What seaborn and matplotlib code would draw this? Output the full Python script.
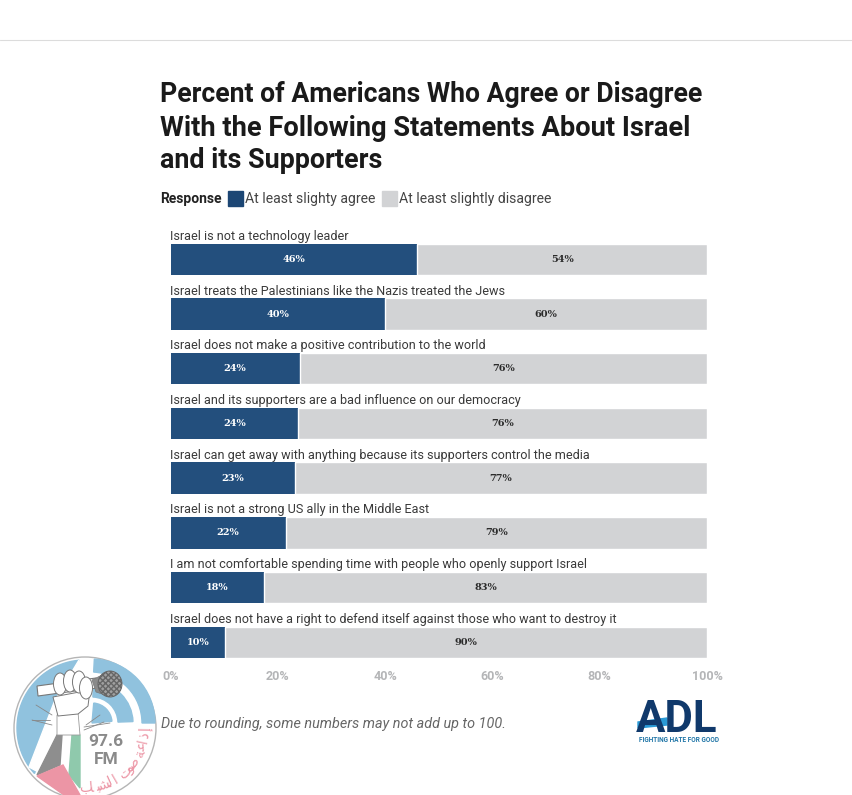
import matplotlib
matplotlib.use('Agg')
import matplotlib.pyplot as plt
from matplotlib.patches import Circle, Ellipse, Polygon, Rectangle, Wedge
import numpy as np
import pandas as pd
import seaborn as sns

statements = [
    "Israel is not a technology leader",
    "Israel treats the Palestinians like the Nazis treated the Jews",
    "Israel does not make a positive contribution to the world",
    "Israel and its supporters are a bad influence on our democracy",
    "Israel can get away with anything because its supporters control the media",
    "Israel is not a strong US ally in the Middle East",
    "I am not comfortable spending time with people who openly support Israel",
    "Israel does not have a right to defend itself against those who want to destroy it",
]
agree_share = [46.0, 40.0, 24.1, 23.8, 23.2, 21.5, 17.4, 10.2]
disagree_end = [100, 100, 100, 100, 100, 100, 100, 100]
agree_labels = ["46%", "40%", "24%", "24%", "23%", "22%", "18%", "10%"]
disagree_labels = ["54%", "60%", "76%", "76%", "77%", "79%", "83%", "90%"]
x_ticks = [0, 20, 40, 60, 80, 100]

title_lines = ["Percent of Americans Who Agree or Disagree",
               "With the Following Statements About Israel",
               "and its Supporters"]
arabic_glyphs = list("ﺇﺫﺍﻋﺔ ﺻﻮﺕ ﺍﻟﺸﺒﺎﺏ")

BLUE = '#234f7d'
GREY = '#d2d3d5'
W, H = 852, 795

sns.set_theme(style='white')
plt.rcParams['font.family'] = ['Roboto', 'DejaVu Sans']

df = pd.DataFrame({'statement': statements, 'agree': agree_share, 'end': disagree_end})

fig = plt.figure(figsize=(W / 100, H / 100), dpi=100)
# axes box goes from x=170.5 to 707, rows are 54.7 px apart
ax_top, ax_bottom = 232, 664
ax = fig.add_axes([170.5 / W, 1 - ax_bottom / H, 536.5 / W, (ax_bottom - ax_top) / H])
sns.barplot(data=df, x='end', y='statement', color=GREY, saturation=1, width=0.575, ax=ax)
sns.barplot(data=df, x='agree', y='statement', color=BLUE, saturation=1, width=0.575,
            linewidth=0, ax=ax)
ax.set_xlim(0, 100)
ax.set_ylim((ax_bottom - ax_top) / 54.7 - 0.5, -0.5)
ax.set_xlabel('')
ax.set_ylabel('')
ax.set_yticks([])
ax.set_xticks(x_ticks)
ax.set_xticklabels([f'{t}%' for t in x_ticks], fontsize=9, fontweight='bold', color='#b4b5b7')
ax.tick_params(axis='x', length=4, width=0.6, color='#e6e6e6', pad=0)
sns.despine(ax=ax, left=True, bottom=True)

for i, name in enumerate(statements):
    # thin white gap where the two segments meet
    ax.vlines(agree_share[i], i - 0.2875, i + 0.2875, color='white', lw=1)
    ax.text(0, i - 0.30, name, fontsize=9.05, color='#3a3a3a', va='bottom', ha='left')
    ax.text(agree_share[i] / 2, i, agree_labels[i], fontsize=7, fontweight='bold',
            family='DejaVu Serif', color='white', ha='center', va='center')
    ax.text((agree_share[i] + 100) / 2, i, disagree_labels[i], fontsize=7, fontweight='bold',
            family='DejaVu Serif', color='#2b2b2b', ha='center', va='center')

# everything else sits on an overlay measured in image pixels
ov = fig.add_axes([0, 0, 1, 1], zorder=5)
ov.set_xlim(0, W)
ov.set_ylim(H, 0)
ov.axis('off')
ov.patch.set_alpha(0)

ov.plot([0, W], [40, 40], color='#dcdcdc', lw=0.8)
for line, y, size in zip(title_lines, [94, 128, 161], [19.2, 19.6, 19.4]):
    ov.text(160, y, line, fontsize=size, fontweight='bold', color='#1a1a1a', va='center')

ov.text(160, 198.5, 'Response', fontsize=10, fontweight='bold', color='#222222', va='center')
ov.add_patch(Rectangle((228, 191), 15, 15, color='#1c4674'))
ov.text(245, 198.5, 'At least slighty agree', fontsize=10.05, color='#444444', va='center')
ov.add_patch(Rectangle((382, 191), 15, 15, color=GREY))
ov.text(399, 198.5, 'At least slightly disagree', fontsize=10.05, color='#444444', va='center')

ov.text(161, 724, 'Due to rounding, some numbers may not add up to 100.', fontsize=10.4,
        style='italic', color='#666666', va='center')

# ADL logo
ov.text(636, 719.5, 'ADL', fontsize=31.5, fontweight='bold', color='#10396b', va='center')
ov.add_patch(Polygon([(638, 722), (667, 718), (667, 725), (638, 728)], color='#2a9ad6'))
ov.text(639, 740, 'FIGHTING HATE FOR GOOD', fontsize=4.7, fontweight='bold', color='#2277a8', va='center')

# radio station badge, bottom left
cx, cy, r = 85, 728, 71
LIGHT = '#90c2de'
ov.add_patch(Circle((cx, cy), r, fc='white', ec='#b5b5b5', lw=1))
left_ang = np.radians(np.linspace(95, 222, 40))
left_pts = [(cx + 68 * np.cos(a), cy - 68 * np.sin(a)) for a in left_ang]
ov.add_patch(Polygon(left_pts + [(79, 660)], color=LIGHT))
ov.add_patch(Wedge((91, 723), 64, 270 + 3, 360, width=13, color=LIGHT))
ov.add_patch(Wedge((92, 723), 41, 272, 358, width=15, color=LIGHT))
ov.add_patch(Wedge((92, 723), 20, 275, 355, color=LIGHT))
ov.add_patch(Polygon([(79, 660), (55, 700), (29, 767), (44, 775), (85, 700)], color='white'))
# arm colours
ov.add_patch(Polygon([(57, 735), (62, 735), (60, 765), (37, 775)], color='#8e8e8e'))
ov.add_patch(Polygon([(72, 735), (80, 735), (80, 788), (69, 775)], color='#8fc9ac'))
ov.add_patch(Polygon([(37, 776), (63, 765), (80, 795), (64, 795)], color='#ec95a5'))
# fist and mic
ov.add_patch(Polygon([(37, 686), (96, 678), (97, 688), (38, 696)], fc='white', ec='#777777', lw=0.8))
ov.add_patch(Polygon([(92, 680), (104, 674), (108, 696), (96, 692)], fc='#8a8a8a', ec='#777777', lw=0.5))
ov.add_patch(Ellipse((110, 684), 24, 26, fc='#a0a0a0', ec='#666666', lw=0.7, hatch='xxxxxx'))
ov.add_patch(Polygon([(57, 715), (78, 712), (80, 735), (57, 735)], fc='white', ec='#999999', lw=0.6))
ov.add_patch(Polygon([(53, 697), (90, 690), (88, 706), (78, 714), (58, 716)], fc='white', ec='#777777', lw=0.7))
for fx, fy in [(60, 684), (70, 681), (79, 682), (86, 688)]:
    ov.add_patch(Ellipse((fx, fy), 13, 22, fc='white', ec='#777777', lw=0.7))
for x0, y0, x1, y1 in [(52, 715, 36, 705), (50, 720, 32, 720), (52, 725, 32, 720),
                       (86, 725, 100, 715), (84, 730, 104, 722), (84, 727, 110, 723)]:
    ov.plot([x0, x1], [y0, y1], color='#888888', lw=0.6)
ov.text(106, 741, '97.6', fontsize=12.5, fontweight='bold', color='#8a8a8a', ha='center', va='center')
ov.text(106, 759, 'FM', fontsize=12.5, fontweight='bold', color='#8a8a8a', ha='center', va='center')
# station name runs clockwise round the inside of the rim
for k, glyph in enumerate(arabic_glyphs):
    th = np.radians(1 + k * 5.9)
    ov.text(cx + 60 * np.cos(th), cy + 60 * np.sin(th), glyph, fontsize=10, color='#ec95a5',
            family='DejaVu Sans', ha='center', va='center', rotation=90 - np.degrees(th))

fig.savefig('out.png', dpi=100)
